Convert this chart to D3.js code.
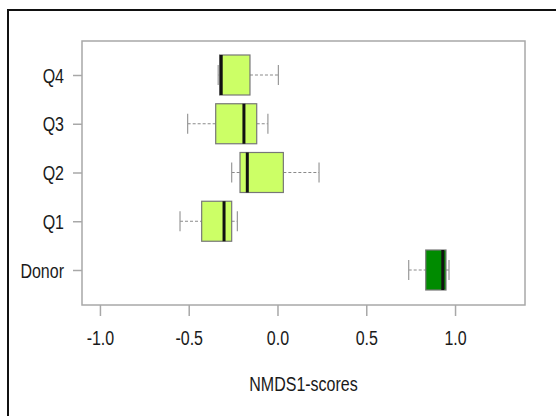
<!DOCTYPE html>
<html>
<head>
<meta charset="utf-8">
<script src="https://cdn.jsdelivr.net/npm/d3@7"></script>
<style>
  body { margin: 0; background: #fff; }
  svg { display: block; font-family: "Liberation Sans", Arial, sans-serif; }
</style>
</head>
<body>
<div id="chart"></div>
<script>
// Box plot summaries, top to bottom
const groups = ["Q4", "Q3", "Q2", "Q1", "Donor"];
const lowWhisker = [-0.334, -0.506, -0.258, -0.549, 0.739];
const lowerQuartile = [-0.326, -0.348, -0.211, -0.427, 0.835];
const medians = [-0.317, -0.189, -0.170, -0.301, 0.931];
const upperQuartile = [-0.155, -0.117, 0.033, -0.258, 0.949];
const highWhisker = [0.005, -0.054, 0.234, -0.226, 0.966];
const fills = ["#ccff66", "#ccff66", "#ccff66", "#ccff66", "#008b00"];
const xTicks = [-1.0, -0.5, 0.0, 0.5, 1.0];

const W = 556, H = 416;
const plot = { left: 82, right: 525, top: 41, bottom: 305 };
// the original picture is a bit stretched vertically, text too
const textStretch = "scale(1,1.25)";

const svg = d3.select("#chart")
    .append("svg")
    .attr("width", W)
    .attr("height", H);

// Outer black frame (runs off the right and bottom edges)
svg.append("rect")
    .attr("x", 8)
    .attr("y", 10)
    .attr("width", 600)
    .attr("height", 460)
    .attr("fill", "none")
    .attr("stroke", "#111")
    .attr("stroke-width", 2);

const x = d3.scaleLinear()
    .domain([-1.101, 1.394])
    .range([plot.left, plot.right]);

const y = d3.scalePoint()
    .domain(groups)
    .range([75, 270]);

const boxH = 40;
const capH = 20;

// Plot frame
svg.append("rect")
    .attr("x", plot.left)
    .attr("y", plot.top)
    .attr("width", plot.right - plot.left)
    .attr("height", plot.bottom - plot.top)
    .attr("fill", "none")
    .attr("stroke", "#a8a8a8")
    .attr("stroke-width", 1.5);

// X axis
const xAxis = svg.append("g")
    .attr("transform", `translate(0,${plot.bottom})`)
    .call(d3.axisBottom(x).tickValues(xTicks).tickFormat(d => d.toFixed(1)).tickSize(11));
xAxis.select(".domain").remove();
xAxis.selectAll("line").attr("stroke", "#a8a8a8").attr("stroke-width", 1.5);
xAxis.selectAll("text")
    .attr("y", 0)
    .attr("dy", null)
    .attr("transform", `translate(0,40) ${textStretch}`)
    .attr("fill", "#1a1a1a")
    .style("font-size", "16px")
    .style("font-family", "\"Liberation Sans\", Arial, sans-serif");

// Y axis
const yAxis = svg.append("g")
    .attr("transform", `translate(${plot.left},0)`)
    .call(d3.axisLeft(y).tickSize(9));
yAxis.select(".domain").remove();
yAxis.selectAll("line").attr("stroke", "#a8a8a8").attr("stroke-width", 1.5);
yAxis.selectAll("text")
    .attr("x", 0)
    .attr("dy", null)
    .attr("transform", `translate(-18,7) ${textStretch}`)
    .attr("fill", "#1a1a1a")
    .style("font-size", "16px")
    .style("font-family", "\"Liberation Sans\", Arial, sans-serif");

// Axis title
svg.append("text")
    .attr("transform", `translate(${(plot.left + plot.right) / 2},391) ${textStretch}`)
    .attr("text-anchor", "middle")
    .attr("fill", "#1a1a1a")
    .style("font-size", "16px")
    .text("NMDS1-scores");

// Boxes
const boxes = svg.selectAll(".box")
    .data(groups)
    .enter()
    .append("g")
    .attr("class", "box");

// dashed whiskers
boxes.append("line")
    .attr("x1", (d, i) => x(lowWhisker[i]))
    .attr("x2", (d, i) => x(lowerQuartile[i]))
    .attr("y1", d => y(d))
    .attr("y2", d => y(d))
    .attr("stroke", "#8a8a8a")
    .attr("stroke-dasharray", "3,2");
boxes.append("line")
    .attr("x1", (d, i) => x(upperQuartile[i]))
    .attr("x2", (d, i) => x(highWhisker[i]))
    .attr("y1", d => y(d))
    .attr("y2", d => y(d))
    .attr("stroke", "#8a8a8a")
    .attr("stroke-dasharray", "3,2");

// caps
[lowWhisker, highWhisker].forEach(arr => {
    boxes.append("line")
        .attr("x1", (d, i) => x(arr[i]))
        .attr("x2", (d, i) => x(arr[i]))
        .attr("y1", d => y(d) - capH / 2)
        .attr("y2", d => y(d) + capH / 2)
        .attr("stroke", "#999")
        .attr("stroke-width", 1.2);
});

boxes.append("rect")
    .attr("x", (d, i) => x(lowerQuartile[i]))
    .attr("y", d => y(d) - boxH / 2)
    .attr("width", (d, i) => x(upperQuartile[i]) - x(lowerQuartile[i]))
    .attr("height", boxH)
    .attr("fill", (d, i) => fills[i])
    .attr("stroke", "#777")
    .attr("stroke-width", 1.2);

boxes.append("line")
    .attr("x1", (d, i) => x(medians[i]))
    .attr("x2", (d, i) => x(medians[i]))
    .attr("y1", d => y(d) - boxH / 2)
    .attr("y2", d => y(d) + boxH / 2)
    .attr("stroke", "#111")
    .attr("stroke-width", 3);
</script>
</body>
</html>
